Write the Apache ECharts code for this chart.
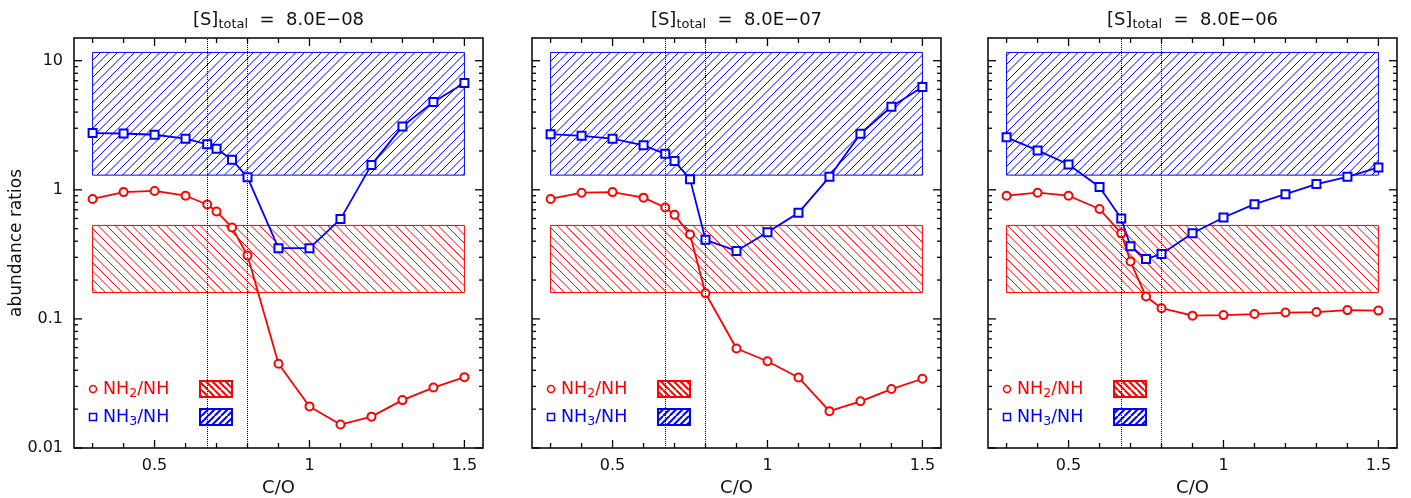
<!DOCTYPE html>
<html>
<head>
<meta charset="utf-8">
<script src="https://cdn.jsdelivr.net/npm/echarts@6/dist/echarts.min.js"></script>
<style>
  html, body { margin: 0; padding: 0; background: #fff; }
  #chart { width: 1411px; height: 498px; }
</style>
</head>
<body>
<div id="chart"></div>
<script>
// C/O ratios of the model grid
const coRatio = [0.3, 0.4, 0.5, 0.6, 0.67, 0.7, 0.75, 0.8, 0.9, 1.0, 1.1, 1.2, 1.3, 1.4, 1.5];

// Total sulphur abundance of each panel
const sulphurTotals = ['8.0E\u221208', '8.0E\u221207', '8.0E\u221206'];

// NH2/NH and NH3/NH abundance ratios, one pair per sulphur abundance
const nh2Nh_S08 = [0.85, 0.96, 0.98, 0.90, 0.77, 0.68, 0.51, 0.31, 0.045, 0.021, 0.0152, 0.0175, 0.0235, 0.0294, 0.0354];
const nh3Nh_S08 = [2.75, 2.73, 2.67, 2.49, 2.25, 2.08, 1.71, 1.25, 0.353, 0.353, 0.593, 1.56, 3.1, 4.79, 6.73];
const nh2Nh_S07 = [0.85, 0.95, 0.96, 0.87, 0.73, 0.64, 0.45, 0.158, 0.059, 0.047, 0.0352, 0.0193, 0.023, 0.0286, 0.0344];
const nh3Nh_S07 = [2.70, 2.62, 2.49, 2.21, 1.90, 1.67, 1.21, 0.41, 0.336, 0.47, 0.663, 1.26, 2.72, 4.40, 6.26];
const nh2Nh_S06 = [0.90, 0.95, 0.90, 0.71, 0.46, 0.278, 0.149, 0.121, 0.106, 0.107, 0.109, 0.112, 0.113, 0.117, 0.116];
const nh3Nh_S06 = [2.55, 2.02, 1.57, 1.05, 0.60, 0.366, 0.291, 0.319, 0.461, 0.61, 0.774, 0.926, 1.107, 1.26, 1.49];

// Observed ranges (hatched bands) and reference C/O values (dotted lines)
const obsCoSpan = [0.3, 1.5];
const nh2NhObserved = [0.16, 0.53];
const nh3NhObserved = [1.3, 11.6];
const coReference = [0.67, 0.8];

// Tick values
const xMajorTicks = [0.5, 1, 1.5];
const xMinorTicks = [0.3, 0.4, 0.6, 0.7, 0.8, 0.9, 1.1, 1.2, 1.3, 1.4];
const yMajorTicks = [0.01, 0.1, 1, 10];
const yMinorTicks = [];
[0.01, 0.1, 1].forEach(function (d) {
  for (let m = 2; m <= 9; m++) yMinorTicks.push(+(d * m).toPrecision(3));
});

const panels = [
  { total: sulphurTotals[0], nh2: nh2Nh_S08, nh3: nh3Nh_S08 },
  { total: sulphurTotals[1], nh2: nh2Nh_S07, nh3: nh3Nh_S07 },
  { total: sulphurTotals[2], nh2: nh2Nh_S06, nh3: nh3Nh_S06 }
];

const RED = '#ff0000';
const BLUE = '#0000ff';
const INK = '#111';
const FONT = 'DejaVu Sans';

const gridLeft = [74, 532, 988];
const gridTop = 38;
const gridWidth = 409;
const gridHeight = 410;

// Diagonal hatch tile: '/' rises to the right, '\' falls to the right
function hatch(color, dir, period, lineWidth) {
  const size = Math.round(period * 2);
  const c = document.createElement('canvas');
  c.width = size; c.height = size;
  const g = c.getContext('2d');
  g.strokeStyle = color;
  g.lineWidth = lineWidth;
  g.beginPath();
  for (let k = -3; k <= 3; k++) {
    const x0 = k * period;
    if (dir === '/') { g.moveTo(x0, size); g.lineTo(x0 + size, 0); }
    else { g.moveTo(x0, 0); g.lineTo(x0 + size, size); }
  }
  g.stroke();
  return { image: c, repeat: 'repeat' };
}

const bandBlue = hatch(BLUE, '/', 8.5, 1);
const bandRed = hatch(RED, '\\', 8.5, 1);
const swatchBlue = hatch(BLUE, '/', 6.5, 2);
const swatchRed = hatch(RED, '\\', 6.5, 2);

function bandRenderer(fill, stroke) {
  return function (params, api) {
    const p0 = api.coord([api.value(0), api.value(1)]);
    const p1 = api.coord([api.value(2), api.value(3)]);
    return {
      type: 'rect',
      shape: {
        x: Math.min(p0[0], p1[0]), y: Math.min(p0[1], p1[1]),
        width: Math.abs(p1[0] - p0[0]), height: Math.abs(p1[1] - p0[1])
      },
      style: { fill: fill, stroke: stroke, lineWidth: 1 }
    };
  };
}

// Inward ticks on all four sides of a panel
const tickData = []
  .concat(xMajorTicks.map(v => [v, 1, 0]))
  .concat(xMinorTicks.map(v => [v, 1, 1]))
  .concat(yMajorTicks.map(v => [1, v, 2]))
  .concat(yMinorTicks.map(v => [1, v, 3]));

function renderTick(params, api) {
  const cs = params.coordSys;
  const kind = api.value(2);
  const segs = [];
  if (kind < 2) {
    const px = api.coord([api.value(0), 1])[0];
    const len = kind === 0 ? 8 : 5;
    segs.push([px, cs.y + cs.height, px, cs.y + cs.height - len]);
    segs.push([px, cs.y, px, cs.y + len]);
  } else {
    const py = api.coord([1, api.value(1)])[1];
    const len = kind === 2 ? 8 : 4;
    segs.push([cs.x, py, cs.x + len, py]);
    segs.push([cs.x + cs.width, py, cs.x + cs.width - len, py]);
  }
  return {
    type: 'group',
    children: segs.map(s => ({
      type: 'line',
      shape: { x1: s[0], y1: s[1], x2: s[2], y2: s[3] },
      style: { stroke: '#000', lineWidth: 1.3 }
    }))
  };
}

function logLabel(v) {
  const e = Math.log10(v);
  if (Math.abs(e - Math.round(e)) > 1e-6) return '';
  return String(+Math.pow(10, Math.round(e)).toPrecision(3));
}

const grids = [], xAxes = [], yAxes = [], series = [], graphics = [];

panels.forEach(function (p, i) {
  const left = gridLeft[i];
  grids.push({
    left: left, top: gridTop, width: gridWidth, height: gridHeight,
    show: true, borderColor: '#000', borderWidth: 1.5,
    backgroundColor: 'transparent', containLabel: false, outerBoundsMode: 'none'
  });
  xAxes.push({
    gridIndex: i, type: 'value', min: 0.24, max: 1.56,
    axisLine: { show: false }, axisTick: { show: false }, splitLine: { show: false },
    axisLabel: {
      customValues: xMajorTicks, margin: 10,
      fontSize: 16, color: INK, fontFamily: FONT
    },
    name: 'C/O', nameLocation: 'middle', nameGap: 29,
    nameTextStyle: { fontSize: 18, color: INK, fontFamily: FONT }
  });
  yAxes.push({
    gridIndex: i, type: 'log', logBase: 10, min: 0.01, max: 15,
    axisLine: { show: false }, axisTick: { show: false },
    splitLine: { show: false }, minorTick: { show: false },
    axisLabel: {
      show: i === 0, formatter: logLabel, margin: 11,
      showMinLabel: true, showMaxLabel: false,
      fontSize: 16, color: INK, fontFamily: FONT
    }
  });

  series.push({
    type: 'custom', xAxisIndex: i, yAxisIndex: i, silent: true, z: 1,
    renderItem: bandRenderer(bandBlue, BLUE),
    encode: { x: [0, 2], y: [1, 3] },
    data: [[obsCoSpan[0], nh3NhObserved[0], obsCoSpan[1], nh3NhObserved[1]]]
  });
  series.push({
    type: 'custom', xAxisIndex: i, yAxisIndex: i, silent: true, z: 1,
    renderItem: bandRenderer(bandRed, RED),
    encode: { x: [0, 2], y: [1, 3] },
    data: [[obsCoSpan[0], nh2NhObserved[0], obsCoSpan[1], nh2NhObserved[1]]]
  });
  series.push({
    type: 'line', xAxisIndex: i, yAxisIndex: i, z: 3,
    data: coRatio.map((c, k) => [c, p.nh2[k]]),
    symbol: 'emptyCircle', symbolSize: 8,
    lineStyle: { color: RED, width: 1.8 },
    itemStyle: { color: RED, borderColor: RED, borderWidth: 1.5 },
    markLine: {
      silent: true, symbol: ['none', 'none'], label: { show: false },
      lineStyle: { type: 'dotted', color: '#000', width: 1 },
      data: coReference.map(v => ({ xAxis: v }))
    }
  });
  series.push({
    type: 'line', xAxisIndex: i, yAxisIndex: i, z: 3,
    data: coRatio.map((c, k) => [c, p.nh3[k]]),
    symbol: 'emptyRect', symbolSize: 8,
    lineStyle: { color: BLUE, width: 1.8 },
    itemStyle: { color: BLUE, borderColor: BLUE, borderWidth: 1.5 }
  });
  series.push({
    type: 'custom', xAxisIndex: i, yAxisIndex: i, silent: true, z: 5,
    renderItem: renderTick, data: tickData
  });

  // Panel title
  graphics.push({
    type: 'text', x: left + gridWidth / 2, y: 20,
    style: {
      text: '[S]{sub|total}  =  ' + p.total,
      fill: INK, fontSize: 18, fontFamily: FONT,
      align: 'center', verticalAlign: 'middle',
      rich: { sub: { fontSize: 13, fontFamily: FONT, fill: INK, padding: [9, 0, 0, 0] } }
    }
  });

  // Legend
  graphics.push({
    type: 'circle', shape: { cx: left + 19, cy: 389, r: 3.5 },
    style: { fill: '#fff', stroke: RED, lineWidth: 1.5 }
  });
  graphics.push({
    type: 'text', x: left + 29, y: 389,
    style: {
      text: 'NH{sub|2}/NH', fill: RED, fontSize: 17.5, fontFamily: FONT,
      align: 'left', verticalAlign: 'middle',
      rich: { sub: { fontSize: 12.5, fontFamily: FONT, fill: RED, padding: [9, 0, 0, 0] } }
    }
  });
  graphics.push({
    type: 'rect', shape: { x: left + 126, y: 381, width: 32, height: 16 },
    style: { fill: swatchRed, stroke: RED, lineWidth: 2 }
  });
  graphics.push({
    type: 'rect', shape: { x: left + 15.5, y: 413.5, width: 7, height: 7 },
    style: { fill: '#fff', stroke: BLUE, lineWidth: 1.5 }
  });
  graphics.push({
    type: 'text', x: left + 29, y: 417,
    style: {
      text: 'NH{sub|3}/NH', fill: BLUE, fontSize: 17.5, fontFamily: FONT,
      align: 'left', verticalAlign: 'middle',
      rich: { sub: { fontSize: 12.5, fontFamily: FONT, fill: BLUE, padding: [9, 0, 0, 0] } }
    }
  });
  graphics.push({
    type: 'rect', shape: { x: left + 126, y: 409, width: 32, height: 16 },
    style: { fill: swatchBlue, stroke: BLUE, lineWidth: 2 }
  });
});

// Y-axis title
graphics.push({
  type: 'text', x: 17, y: 243, rotation: Math.PI / 2,
  style: {
    text: 'abundance ratios', fill: INK, fontSize: 17, fontFamily: FONT,
    align: 'center', verticalAlign: 'middle'
  }
});

const chart = echarts.init(document.getElementById('chart'), null, { renderer: 'canvas' });
chart.setOption({
  animation: false,
  backgroundColor: '#fff',
  textStyle: { fontFamily: FONT },
  grid: grids,
  xAxis: xAxes,
  yAxis: yAxes,
  series: series,
  graphic: { elements: graphics }
});
</script>
</body>
</html>
